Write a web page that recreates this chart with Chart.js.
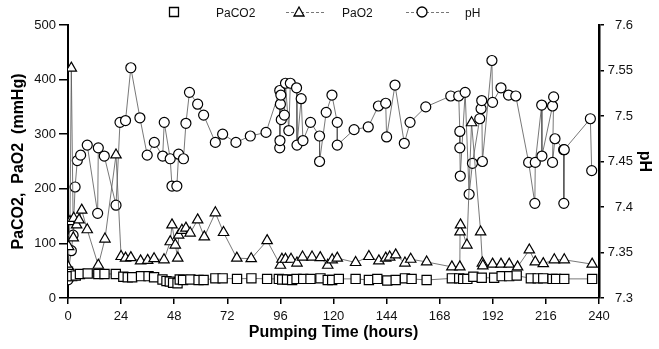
<!DOCTYPE html>
<html>
<head>
<meta charset="utf-8">
<script src="https://cdn.jsdelivr.net/npm/chart.js"></script>
<style>
  body { margin: 0; background: #fff; }
  #wrap { width: 659px; height: 349px; }
</style>
</head>
<body>
<div id="wrap"><canvas id="myChart" width="659" height="349"></canvas></div>
<script>
// PaCO2 (mmHg) readings
const paco2Hours = [0, 0.3, 0.6, 1.9, 3.5, 5.4, 8.9, 13.7, 16.5, 21.6, 25, 27, 29, 33, 36.4, 38.9, 42.7, 44.5, 46, 47.5, 49.5, 50.5, 52, 55.3, 59, 61.3, 66.6, 69.9, 76.4, 82.9, 90, 95.3, 96.8, 99, 101.3, 103.3, 106.3, 109.6, 114.1, 117.4, 119.4, 122.4, 130, 136, 139.8, 144.3, 148.1, 152.3, 155.3, 162.1, 173.5, 176.8, 178.6, 180.5, 183.2, 187, 192.6, 196, 199.4, 202.8, 209.2, 212.3, 214.8, 219, 220.6, 224.3, 236.9];
const paco2Values = [48, 40, 44, 40, 41, 44, 45, 44, 44, 44, 39, 38, 38, 40, 40, 38, 34, 31, 30, 28, 27, 34, 33, 34, 33, 33, 36, 36, 35, 36, 35, 35, 34, 34, 33, 35, 35, 35, 36, 33, 33, 35, 35, 33, 35, 32, 33, 36, 35, 33, 36, 36, 35, 35, 39, 37, 37, 40, 40, 41, 36, 36, 36, 35, 35, 35, 35];

// PaO2 (mmHg) readings
const pao2Hours = [0, 0.3, 0.9, 1.5, 2.4, 2.6, 3.9, 5, 6.2, 8.7, 13.7, 16.7, 21.7, 24, 26, 28.4, 32.8, 36, 38.9, 43.4, 46.2, 47, 48.5, 49.6, 50, 51.5, 53.3, 55.2, 58.6, 61.6, 66.6, 70.3, 76.3, 82.8, 90, 96, 96.7, 98.3, 100.8, 103.5, 106, 110.3, 114, 117.4, 119.4, 121.7, 130, 136, 140.5, 143.6, 145.4, 148.1, 152.3, 154.9, 162.1, 173.5, 177.1, 177.2, 177.4, 180.3, 182.4, 186.5, 187.3, 187.5, 191.9, 195.7, 199.4, 203.2, 208.5, 211.2, 214.8, 219.8, 224.3, 236.9];
const pao2Values = [57, 94, 140, 421, 110, 146, 134, 143, 161, 125, 60, 108, 262, 76, 73, 74, 68, 69, 72, 70, 103, 134, 97, 73, 115, 124, 128, 119, 143, 112, 156, 120, 73, 72, 105, 60, 71, 71, 71, 64, 75, 75, 74, 60, 70, 73, 65, 76, 68, 73, 75, 79, 64, 71, 66, 57, 57, 121, 134, 97, 321, 121, 64, 59, 62, 62, 62, 57, 88, 66, 63, 70, 70, 62];

// pH readings
const phHours = [0, 0.2, 1.5, 2.3, 3.2, 4.2, 5.7, 8.7, 13.4, 13.7, 16.4, 21.7, 23.5, 26, 28.4, 32.5, 35.8, 39, 42.8, 43.5, 46.2, 47, 49.2, 50, 52.2, 53.3, 54.9, 58.6, 61.3, 66.6, 69.9, 75.9, 82.4, 89.5, 95.7, 95.7, 95.8, 96, 96.2, 96.4, 97.8, 98.3, 99.8, 100.5, 103.3, 103.5, 105.4, 106.2, 109.6, 113.7, 113.7, 116.7, 119.3, 121.7, 121.7, 129.3, 135.7, 140.3, 143.6, 144, 147.8, 152, 154.6, 161.7, 173, 176.6, 177.1, 177.1, 177.3, 179.5, 181.3, 182.8, 186.1, 186.7, 187, 187.3, 191.6, 191.9, 195.7, 199.1, 202.4, 208.2, 211, 211.2, 214.1, 214.2, 219, 219.5, 219, 220.1, 224, 224.1, 224.3, 236.1, 236.7];
const phValues = [7.320, 7.330, 7.352, 7.369, 7.422, 7.451, 7.457, 7.468, 7.393, 7.465, 7.456, 7.402, 7.493, 7.495, 7.553, 7.498, 7.457, 7.471, 7.456, 7.493, 7.453, 7.423, 7.423, 7.458, 7.453, 7.492, 7.526, 7.513, 7.501, 7.471, 7.480, 7.471, 7.478, 7.482, 7.528, 7.465, 7.473, 7.513, 7.523, 7.496, 7.501, 7.536, 7.484, 7.536, 7.531, 7.468, 7.519, 7.473, 7.493, 7.478, 7.450, 7.504, 7.523, 7.493, 7.468, 7.485, 7.488, 7.511, 7.514, 7.477, 7.534, 7.470, 7.493, 7.510, 7.522, 7.522, 7.483, 7.465, 7.434, 7.526, 7.414, 7.448, 7.497, 7.508, 7.517, 7.450, 7.561, 7.515, 7.531, 7.523, 7.522, 7.449, 7.404, 7.449, 7.512, 7.456, 7.511, 7.521, 7.449, 7.475, 7.463, 7.404, 7.463, 7.497, 7.440];

const seriesLabels = ['PaCO2', 'PaO2', 'pH'];

function toPoints(hours, values) {
  return hours.map((h, i) => ({ x: h, y: values[i] }));
}

Chart.defaults.font.family = '"Liberation Sans", Arial, sans-serif';
Chart.defaults.color = '#111';

// legend drawn across the top, marker + short dashed line + label
const topLegend = {
  id: 'topLegend',
  afterDraw(chart) {
    const ctx = chart.ctx;
    const y = 12;
    const items = [
      { mark: 174, line: null, text: 216 },
      { mark: 299, line: [286, 326], text: 342 },
      { mark: 422, line: [406, 449], text: 465 }
    ];
    ctx.save();
    items.forEach((it, i) => {
      const ds = chart.data.datasets[i];
      if (it.line) {
        ctx.strokeStyle = '#777';
        ctx.lineWidth = 1;
        ctx.setLineDash([3, 2]);
        ctx.beginPath();
        ctx.moveTo(it.line[0], y + 0.5);
        ctx.lineTo(it.line[1], y + 0.5);
        ctx.stroke();
        ctx.setLineDash([]);
      }
      ctx.fillStyle = '#fff';
      ctx.strokeStyle = '#000';
      ctx.lineWidth = 1.3;
      ctx.beginPath();
      if (ds.pointStyle === 'rect') {
        ctx.rect(it.mark - 4.5, y - 4.5, 9, 9);
      } else if (ds.pointStyle === 'triangle') {
        ctx.moveTo(it.mark, y - 5);
        ctx.lineTo(it.mark + 5, y + 4);
        ctx.lineTo(it.mark - 5, y + 4);
        ctx.closePath();
      } else {
        ctx.arc(it.mark, y, 5, 0, Math.PI * 2);
      }
      ctx.fill();
      ctx.stroke();
      ctx.fillStyle = '#111';
      ctx.font = '12px "Liberation Sans", Arial, sans-serif';
      ctx.textBaseline = 'middle';
      ctx.fillText(ds.label, it.text, y + 2);
    });
    ctx.restore();
  }
};

const lineColor = '#555';

new Chart(document.getElementById('myChart'), {
  type: 'line',
  data: {
    datasets: [
      {
        label: seriesLabels[0],
        data: toPoints(paco2Hours, paco2Values),
        yAxisID: 'y',
        pointStyle: 'rect',
        pointRadius: 6.5,
        pointBorderWidth: 1.2,
        pointBorderColor: '#000',
        pointBackgroundColor: '#fff',
        borderColor: lineColor,
        borderWidth: 0.8,
        fill: false,
        tension: 0
      },
      {
        label: seriesLabels[1],
        data: toPoints(pao2Hours, pao2Values),
        yAxisID: 'y',
        pointStyle: 'triangle',
        pointRadius: 6,
        pointBorderWidth: 1.2,
        pointBorderColor: '#000',
        pointBackgroundColor: '#fff',
        borderColor: lineColor,
        borderWidth: 0.8,
        fill: false,
        tension: 0
      },
      {
        label: seriesLabels[2],
        data: toPoints(phHours, phValues),
        yAxisID: 'y1',
        pointStyle: 'circle',
        pointRadius: 5,
        pointBorderWidth: 1.2,
        pointBorderColor: '#000',
        pointBackgroundColor: '#fff',
        borderColor: lineColor,
        borderWidth: 0.8,
        fill: false,
        tension: 0
      }
    ]
  },
  options: {
    responsive: false,
    animation: false,
    devicePixelRatio: 1,
    layout: { padding: { top: 25, left: 0, right: 26, bottom: 0 } },
    plugins: {
      legend: { display: false },
      tooltip: { enabled: false }
    },
    scales: {
      x: {
        type: 'linear',
        min: 0,
        max: 240,
        ticks: { stepSize: 24, font: { size: 13 }, padding: 5, maxRotation: 0 },
        grid: { display: true, drawOnChartArea: false, drawTicks: true, tickLength: 6, color: '#000', lineWidth: 1.5 },
        border: { display: true, color: '#000', width: 1.5 },
        title: { display: true, text: 'Pumping Time (hours)', font: { size: 16, weight: 'bold' }, color: '#000', padding: { top: 0, bottom: 7 } },
        afterFit: (s) => { s.height = 51; }
      },
      y: {
        position: 'left',
        min: 0,
        max: 500,
        ticks: { stepSize: 100, font: { size: 13 }, padding: 3 },
        grid: { display: true, drawOnChartArea: false, drawTicks: true, tickLength: 9, color: '#000', lineWidth: 1.5 },
        border: { display: true, color: '#000', width: 2 },
        title: { display: true, text: 'PaCO2,  PaO2  (mmHg)', font: { size: 16, weight: 'bold' }, color: '#000', padding: { top: 9, bottom: 0 } },
        afterFit: (s) => { s.width = 68; }
      },
      y1: {
        position: 'right',
        min: 7.3,
        max: 7.6,
        ticks: {
          stepSize: 0.05,
          font: { size: 13 },
          padding: 5,
          crossAlign: 'far',
          callback: (v) => Number(Number(v).toFixed(2)).toString()
        },
        grid: { display: true, drawOnChartArea: false, drawTicks: true, tickLength: 5, color: '#000', lineWidth: 1.5 },
        border: { display: true, color: '#000', width: 2.5 },
        // title sits out past the labels, inside the layout padding
        title: { display: true, text: 'pH', font: { size: 16, weight: 'bold' }, color: '#000', padding: { top: -21, bottom: 0 } },
        afterFit: (s) => { s.width = 34; }
      }
    }
  },
  plugins: [topLegend]
});
</script>
</body>
</html>
